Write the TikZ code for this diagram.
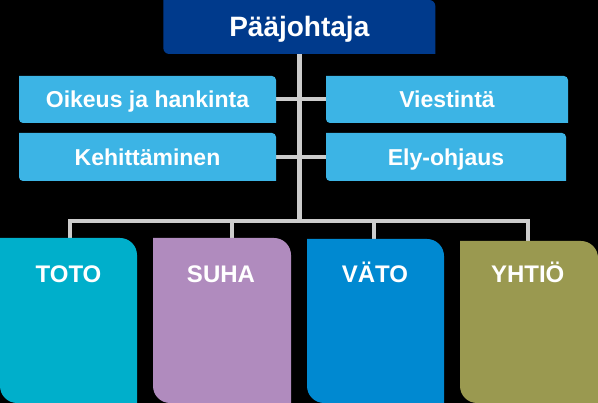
\documentclass[tikz,border=0pt]{standalone}
\usepackage{fontspec}
\setmainfont{Liberation Sans}
\pgfdeclarelayer{bg}
\pgfdeclarelayer{mid}
\pgfsetlayers{bg,mid,main}
\definecolor{navyc}{HTML}{003A8C}
\definecolor{skyc}{HTML}{3CB4E5}
\definecolor{totoc}{HTML}{00AFCB}
\definecolor{suhac}{HTML}{B08BBE}
\definecolor{vatoc}{HTML}{0089D1}
\definecolor{yhtioc}{HTML}{9A9950}
\definecolor{linec}{HTML}{CCCCCC}
\newcommand\orgshape[3]{%
  \fill[#3] (#1.north west) -- ([xshift=-#2pt]#1.north east)
    arc[start angle=90,end angle=0,radius=#2pt] -- (#1.south east)
    -- ([xshift=#2pt]#1.south west)
    arc[start angle=270,end angle=180,radius=#2pt] -- cycle;}
\begin{document}
\begin{tikzpicture}[x=1pt,y=1pt,
  box/.style={rectangle, inner sep=0pt, outer sep=0pt, text=white},
  topfont/.style={font=\bfseries\fontsize{28}{31}\selectfont, text height=20pt, text depth=0pt},
  midfont/.style={font=\bfseries\fontsize{23}{26}\selectfont, text height=16.5pt, text depth=0pt},
  botfont/.style={font=\bfseries\fontsize{24}{27}\selectfont, text height=17.2pt, text depth=0pt},
  conn/.style={draw=linec, line width=4pt},
  trunk/.style={draw=linec, line width=5pt}]
\useasboundingbox (0,0) rectangle (598,403);
\begin{pgfonlayer}{bg}
  \fill[black] (0,0) rectangle (598,403);
\end{pgfonlayer}
% top
\node[box, topfont, minimum width=272pt, minimum height=54pt] (P) at (299.3,376) {Pääjohtaja};
% staff
\node[box, midfont, minimum width=257pt, minimum height=47pt] (O) at (147.5,303.5) {Oikeus ja hankinta};
\node[box, midfont, minimum width=242pt, minimum height=47pt] (V) at (447,303.5) {Viestintä};
\node[box, midfont, minimum width=257pt, minimum height=48pt] (K) at (147.5,246) {Kehittäminen};
\node[box, midfont, minimum width=240pt, minimum height=48pt] (E) at (446,246) {Ely-ohjaus};
% units
\node[box, minimum width=137pt, minimum height=165pt] (T) at (68.5,82.5) {};
\node[box, minimum width=138pt, minimum height=165pt] (S) at (222,82.5) {};
\node[box, minimum width=137pt, minimum height=164pt] (A) at (375.5,82) {};
\node[box, minimum width=138pt, minimum height=162pt] (Y) at (529,81) {};
\node[box, botfont] (Tt) at (68.5,129) {TOTO};
\node[box, botfont] (St) at (221,129) {SUHA};
\node[box, botfont] (At) at (375,129) {VÄTO};
\node[box, botfont] (Yt) at (527.7,129) {YHTIÖ};
% bus coordinates
\coordinate (b1) at (69.5,182.3);
\coordinate (b2) at (232.3,182.3);
\coordinate (b3) at (373.7,182.3);
\coordinate (b4) at (527.7,182.3);
\begin{pgfonlayer}{mid}
  \draw[trunk] (P.south) -- (P.south |- b1);
  \draw[conn] (O.east) -- (V.west);
  \draw[conn] (K.east) -- (E.west);
  \draw[conn, line cap=rect] (b1) -- (b4);
  \draw[conn] (b1) -- (b1 |- T.north);
  \draw[conn] (b2) -- (b2 |- S.north);
  \draw[conn] (b3) -- (b3 |- A.north);
  \draw[conn] (b4) -- (b4 |- Y.north);
  \orgshape{P}{6}{navyc}
  \orgshape{O}{4}{skyc}
  \orgshape{V}{4}{skyc}
  \orgshape{K}{4}{skyc}
  \orgshape{E}{4}{skyc}
  \orgshape{T}{17}{totoc}
  \orgshape{S}{17}{suhac}
  \orgshape{A}{17}{vatoc}
  \orgshape{Y}{17}{yhtioc}
\end{pgfonlayer}
\end{tikzpicture}
\end{document}
